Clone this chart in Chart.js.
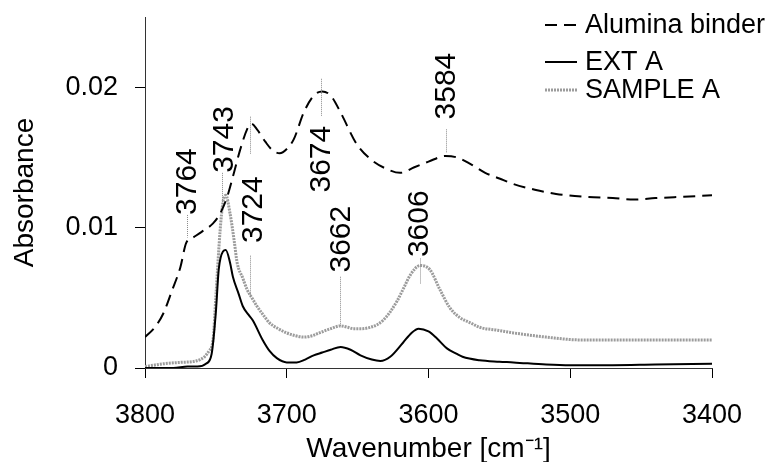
<!DOCTYPE html>
<html>
<head>
<meta charset="utf-8">
<script src="https://cdn.jsdelivr.net/npm/chart.js@4/dist/chart.umd.min.js"></script>
<style>
  html, body { margin: 0; padding: 0; background: #fff; }
</style>
</head>
<body>
<canvas id="irChart" width="770" height="462"></canvas>
<script>
const FONT = '"Liberation Sans", Arial, sans-serif';

// Alumina binder (dashed)
const aluminaX = [3800, 3793, 3787, 3781, 3775, 3771, 3766, 3760, 3752, 3747, 3742, 3737, 3733, 3728, 3725, 3721,
  3715, 3710, 3705, 3700, 3695, 3688, 3681, 3675, 3669, 3662, 3651, 3640, 3630, 3620, 3610, 3600, 3588, 3580,
  3570, 3560, 3550, 3540, 3525, 3510, 3490, 3470, 3455, 3440, 3420, 3400];
const aluminaY = [0.0022, 0.0029, 0.0039, 0.0055, 0.0072, 0.0089, 0.0093, 0.0097, 0.0103, 0.0110, 0.0122, 0.0140, 0.0155, 0.0170, 0.0174, 0.0170,
  0.0161, 0.0155, 0.0153, 0.0156, 0.0163, 0.0182, 0.0194, 0.0197, 0.0194, 0.0182, 0.0160, 0.0148, 0.0142, 0.0139, 0.0143, 0.0147, 0.0151, 0.0150,
  0.0145, 0.0139, 0.0135, 0.0131, 0.0127, 0.0124, 0.0122, 0.0121, 0.0120, 0.0121, 0.0122, 0.0123];

// EXT A (solid)
const extX = [3800, 3790, 3780, 3770, 3763, 3757, 3753, 3750, 3748, 3745, 3743, 3740, 3738, 3734, 3731, 3727, 3724,
  3717, 3712, 3707, 3700, 3693, 3687, 3681, 3675, 3669, 3662, 3655, 3648, 3640, 3634, 3627, 3618, 3612, 3607,
  3600, 3594, 3587, 3580, 3576, 3564, 3550, 3540, 3517, 3500, 3470, 3440, 3400];
const extY = [0.0000, 0.0000, 0.0000, 0.0001, 0.0001, 0.0003, 0.0010, 0.0040, 0.0070, 0.0083, 0.0084, 0.0075, 0.0065, 0.0053, 0.0044, 0.0038, 0.0034,
  0.0020, 0.0012, 0.0007, 0.0004, 0.0004, 0.0006, 0.0009, 0.0011, 0.0013, 0.0015, 0.0013, 0.0009, 0.0006, 0.0005, 0.0008, 0.0018, 0.0025, 0.0028,
  0.0026, 0.0021, 0.0014, 0.0010, 0.0008, 0.00055, 0.00045, 0.0004, 0.00025, 0.0002, 0.0002, 0.00025, 0.0003];

// SAMPLE A (grey dotted)
const sampleX = [3800, 3787, 3775, 3764, 3758, 3755, 3752, 3750, 3747, 3745, 3743, 3740, 3737, 3735, 3731, 3728, 3724,
  3721, 3716, 3712, 3706, 3700, 3694, 3688, 3682, 3677, 3669, 3662, 3657, 3653, 3647, 3641, 3636, 3632, 3627,
  3622, 3617, 3613, 3606, 3599, 3592, 3585, 3578, 3570, 3564, 3552, 3540, 3517, 3493, 3450, 3400];
const sampleY = [0.0001, 0.0003, 0.0004, 0.0005, 0.0008, 0.0012, 0.0020, 0.0051, 0.0098, 0.0118, 0.0123, 0.0110, 0.0090, 0.0075, 0.0064, 0.0056, 0.0049,
  0.0044, 0.0037, 0.0032, 0.0028, 0.0025, 0.0023, 0.0022, 0.0023, 0.0025, 0.0028, 0.0030, 0.0029, 0.0028, 0.0028, 0.0029, 0.0031, 0.0034, 0.0040,
  0.0048, 0.0058, 0.0066, 0.0073, 0.0070, 0.0056, 0.0043, 0.0036, 0.0032, 0.0029, 0.0027, 0.0025, 0.0022, 0.0020, 0.0020, 0.0020];

// peak annotations: text, position of the text foot, dotted marker lines
const peakLabels = ['3764', '3743', '3724', '3674', '3662', '3606', '3584'];
const peakLabelX = [3769.7, 3743.6, 3723.5, 3675.5, 3661.4, 3606, 3587];
const peakLabelY = [0.0109, 0.0139, 0.0089, 0.0125, 0.0068, 0.0079, 0.0177];
const markerX = [3770.6, 3745.5, 3726, 3726, 3675.8, 3662.4, 3606.3, 3587.9];
const markerTop = [0.0109, 0.0139, 0.0080, 0.0179, 0.0206, 0.0065, 0.0078, 0.0170];
const markerBottom = [0.0093, 0.0115, 0.0050, 0.0152, 0.0179, 0.0030, 0.0060, 0.0153];

const xTicks = [3800, 3700, 3600, 3500, 3400];

function toPoints(xs, ys) {
  return xs.map((x, i) => ({ x: x, y: ys[i] }));
}

// peak labels + dotted markers
const peakPlugin = {
  id: 'peaks',
  afterDatasetsDraw(chart) {
    const { ctx, scales: { x, y } } = chart;
    ctx.save();
    ctx.strokeStyle = '#8a8a8a';
    ctx.lineWidth = 1;
    ctx.setLineDash([1, 1]);
    for (let i = 0; i < markerX.length; i++) {
      const px = Math.round(x.getPixelForValue(markerX[i])) + 0.5;
      ctx.beginPath();
      ctx.moveTo(px, y.getPixelForValue(markerTop[i]));
      ctx.lineTo(px, y.getPixelForValue(markerBottom[i]));
      ctx.stroke();
    }
    ctx.setLineDash([]);
    ctx.fillStyle = '#000';
    ctx.font = '30px ' + FONT;
    ctx.textAlign = 'left';
    ctx.textBaseline = 'middle';
    for (let i = 0; i < peakLabels.length; i++) {
      ctx.save();
      ctx.translate(x.getPixelForValue(peakLabelX[i]), y.getPixelForValue(peakLabelY[i]));
      ctx.rotate(-Math.PI / 2);
      ctx.fillText(peakLabels[i], 0, 0);
      ctx.restore();
    }
    ctx.restore();
  }
};

// legend in the top right corner
const legendPlugin = {
  id: 'cornerLegend',
  afterDraw(chart) {
    const ctx = chart.ctx;
    const rows = [25, 62, 90];
    ctx.save();
    ctx.font = '27px ' + FONT;
    ctx.textBaseline = 'middle';
    ctx.fillStyle = '#000';
    chart.data.datasets.forEach((ds, i) => {
      ctx.strokeStyle = ds.borderColor;
      ctx.lineWidth = ds.borderWidth;
      ctx.setLineDash(ds.borderDash || []);
      ctx.beginPath();
      ctx.moveTo(545, rows[i]);
      ctx.lineTo(577, rows[i]);
      ctx.stroke();
      ctx.fillText(ds.label, 585, rows[i] + 1);
    });
    ctx.restore();
  }
};

const ctx = document.getElementById('irChart').getContext('2d');
const irChart = new Chart(ctx, {
  type: 'line',
  data: {
    datasets: [
      {
        label: 'Alumina binder',
        data: toPoints(aluminaX, aluminaY),
        borderColor: '#000',
        borderWidth: 2,
        borderDash: [12, 7]
      },
      {
        label: 'EXT A',
        data: toPoints(extX, extY),
        borderColor: '#000',
        borderWidth: 2
      },
      {
        label: 'SAMPLE A',
        data: toPoints(sampleX, sampleY),
        borderColor: '#9c9c9c',
        borderWidth: 3,
        borderDash: [2, 1]
      }
    ]
  },
  options: {
    responsive: false,
    animation: false,
    devicePixelRatio: 1,
    parsing: false,
    elements: {
      point: { radius: 0 },
      line: { cubicInterpolationMode: 'monotone', fill: false }
    },
    layout: { padding: { top: 17, right: 58, left: 0, bottom: 0 } },
    plugins: {
      legend: { display: false },
      tooltip: { enabled: false }
    },
    scales: {
      x: {
        type: 'linear',
        reverse: true,
        min: 3400,
        max: 3800,
        afterBuildTicks(scale) {
          scale.ticks = xTicks.map(v => ({ value: v }));
        },
        afterFit(scale) {
          scale.height = 94;
          scale.paddingLeft = 0;
          scale.paddingRight = 0;
        },
        ticks: {
          color: '#000',
          font: { family: FONT, size: 27 },
          padding: 21,
          maxRotation: 0,
          callback: v => String(v)
        },
        grid: { drawOnChartArea: false, tickLength: 10, color: '#000' },
        border: { color: '#333', width: 1 },
        title: {
          display: true,
          text: 'Wavenumber [cm\u207B\u00B9]',
          color: '#000',
          font: { family: FONT, size: 28 },
          padding: { top: 0, bottom: -4 }
        }
      },
      y: {
        min: 0,
        max: 0.025,
        afterFit(scale) {
          scale.width = 145;
          scale.paddingTop = 0;
          scale.paddingBottom = 0;
        },
        ticks: {
          stepSize: 0.01,
          includeBounds: false,
          color: '#000',
          font: { family: FONT, size: 27 },
          padding: 17,
          callback: v => (v === 0 ? '0' : v.toFixed(2))
        },
        grid: { drawOnChartArea: false, tickLength: 10, color: '#000' },
        border: { color: '#333', width: 1 },
        title: {
          display: true,
          text: 'Absorbance',
          color: '#000',
          font: { family: FONT, size: 28 },
          padding: { top: 8, bottom: 0 }
        }
      }
    }
  },
  plugins: [peakPlugin, legendPlugin]
});
</script>
</body>
</html>
